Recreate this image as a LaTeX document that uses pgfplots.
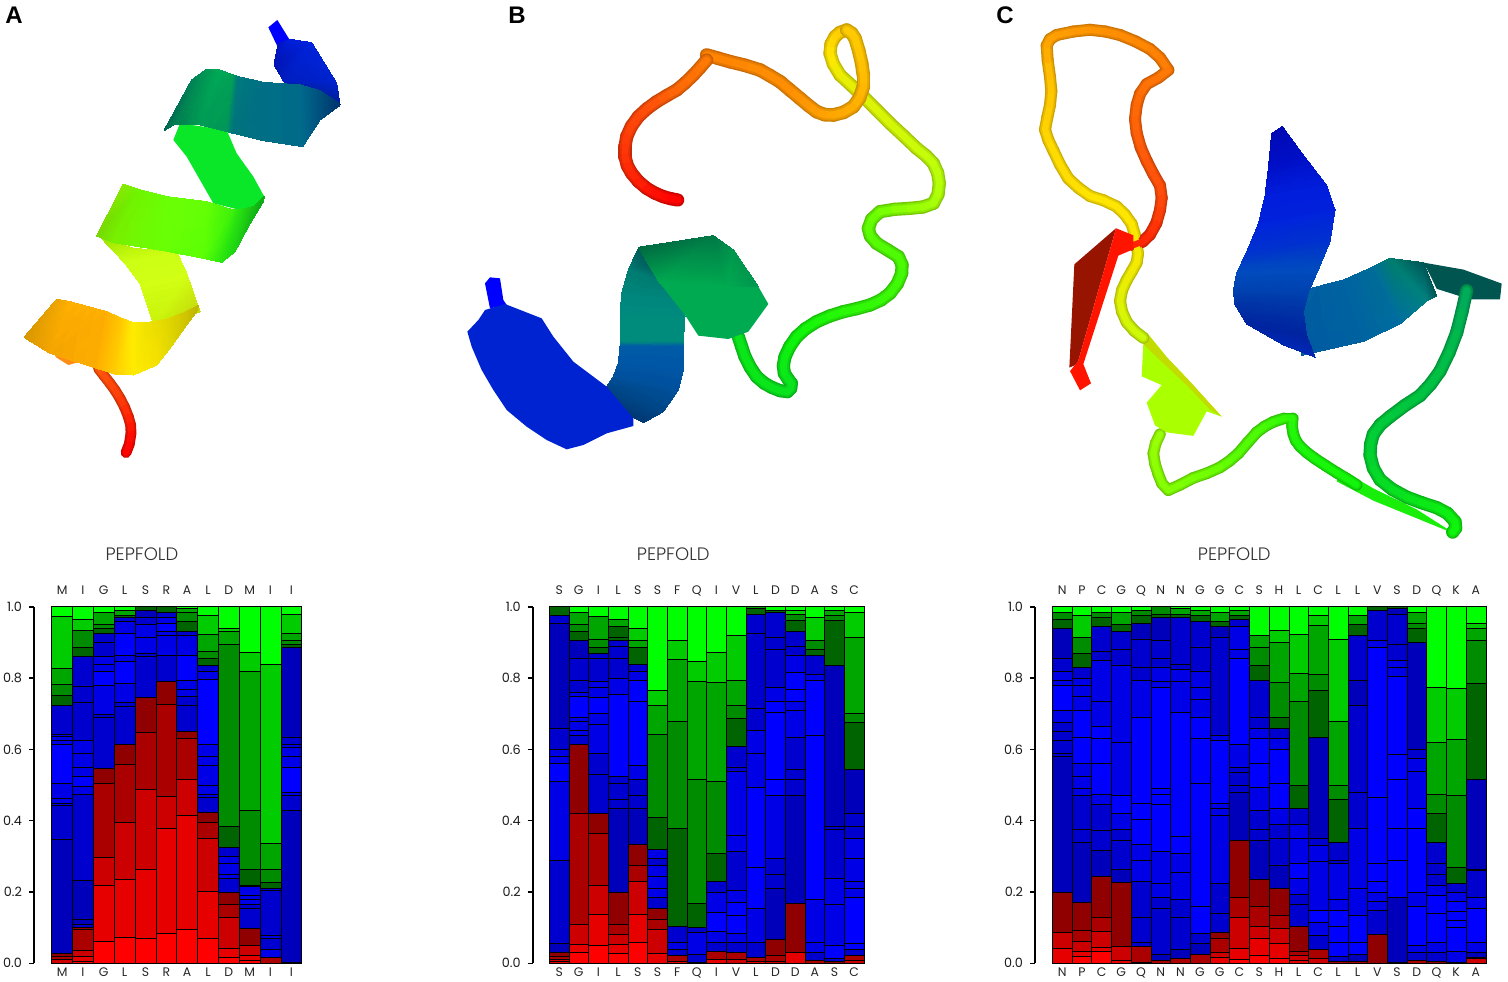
\documentclass[border=0pt]{standalone}
\usepackage{fontspec}
\usepackage{pgfplots}
\usepackage{pgfplotstable}
\pgfplotsset{compat=1.18}
\setmainfont{Poppins}[UprightFont=* Light]
\newfontfamily\tickfont{Poppins}
\newfontfamily\panelfont{Liberation Sans}[BoldFont=* Bold]

\definecolor{r1}{HTML}{FF0000}\definecolor{r2}{HTML}{E60000}\definecolor{r3}{HTML}{CC0000}
\definecolor{r4}{HTML}{AA0000}\definecolor{r5}{HTML}{910000}
\definecolor{b1}{HTML}{0000FF}\definecolor{b2}{HTML}{0000E6}\definecolor{b3}{HTML}{0000CE}\definecolor{b4}{HTML}{0000BA}
\definecolor{g1}{HTML}{006400}\definecolor{g2}{HTML}{008C00}\definecolor{g3}{HTML}{00A600}
\definecolor{g4}{HTML}{00CC00}\definecolor{g5}{HTML}{00FF00}

\pgfplotsset{
  colormap={rb}{rgb255(0)=(0,0,255) rgb255(25)=(0,130,130) rgb255(40)=(0,200,60) rgb255(50)=(15,245,10)
    rgb255(62)=(120,255,0) rgb255(70)=(190,255,10) rgb255(76)=(255,230,0) rgb255(85)=(255,150,0)
    rgb255(93)=(255,80,10) rgb255(100)=(255,0,0)},
  colormap={rbm}{rgb255(0)=(0,0,230) rgb255(25)=(0,118,118) rgb255(40)=(0,182,55) rgb255(50)=(14,222,9)
    rgb255(62)=(108,232,0) rgb255(70)=(172,232,9) rgb255(76)=(232,208,0) rgb255(85)=(232,136,0)
    rgb255(93)=(232,72,9) rgb255(100)=(230,0,0)},
  colormap={rbd}{rgb255(0)=(0,0,200) rgb255(25)=(0,100,100) rgb255(40)=(0,155,48) rgb255(50)=(11,190,8)
    rgb255(62)=(95,200,0) rgb255(70)=(150,200,8) rgb255(76)=(205,180,0) rgb255(85)=(205,118,0)
    rgb255(93)=(200,62,8) rgb255(100)=(200,0,0)},
  rib/.style={surf,shader=interp,mesh/color input=explicit,mesh/cols=2,forget plot},
  flat/.style={draw=none,forget plot},
  tube/.style={mesh,point meta=explicit,line cap=round,line join=round,line width=#1,forget plot},
  pic/.style={hide axis,scale only axis,clip=false,anchor=north west,y dir=reverse,
    point meta min=0,point meta max=1},
  seg/.style={draw=black,line width=0.22pt,forget plot},
  bars/.style={scale only axis,anchor=south west,clip=false,height=178.3pt,ymin=0,ymax=1},
  lowerbars/.style={bars,axis y line*=left,axis x line*=bottom,x axis line style={draw=none},
    y axis line style={line width=1pt,-},xtick style={draw=none},
    ytick={0,0.2,0.4,0.6,0.8,1},tick align=outside,major tick length=2.5pt,
    ytick style={line width=0.8pt,black},
    /pgf/number format/assume math mode=true,
    /pgf/number format/.cd,fixed,fixed zerofill,precision=1,/pgfplots/.cd,
    yticklabel style={font=\tickfont\fontsize{6.4}{7}\selectfont,black!90},
    xticklabel style={font=\tickfont\fontsize{6.2}{7}\selectfont,black!85,anchor=base,yshift=-4.2pt}},
  upperbars/.style={bars,hide y axis,axis x line*=top,x axis line style={draw=none},xtick style={draw=none},
    xticklabel style={font=\tickfont\fontsize{6.2}{7}\selectfont,black!85,anchor=base,yshift=6pt}},
}

% one stacked column: colour/top of each band, from the bottom up
\newcommand\stk[2]{%
  \gdef\prevtop{0}%
  \pgfmathtruncatemacro\xa{#1}\pgfmathtruncatemacro\xb{#1+1}%
  \foreach \col/\tp in {#2}{%
    \edef\tmp{\noexpand\addplot[seg,fill=\col] coordinates {(\xa,\prevtop)(\xb,\prevtop)(\xb,\tp)(\xa,\tp)} -- cycle;}\tmp
    \global\let\prevtop\tp
  }}
% a tube is three passes, dark rim to light core
\newcommand\tubeplot[2]{%
  \addplot[tube={#2},colormap name=rbd] table[meta=c] {#1};
  \addplot[tube={0.8*#2},colormap name=rbm] table[meta=c] {#1};
  \addplot[tube={0.52*#2},colormap name=rb] table[meta=c] {#1};
}

% tube centre lines, x y and position along the chain
\pgfplotstableread{
x y c
295 1105 .92
312 1127 .93
330 1150 .935
346 1172 .94
360 1195 .945
374 1222 .955
385 1250 .965
392 1275 .975
393 1300 .985
388 1332 .995
378 1358 1
}\tubeA
\pgfplotstableread{
x y c
865 1010 .46
875 1040 .465
885 1070 .47
901 1102 .47
920 1130 .47
942 1149 .47
965 1162 .465
990 1172 .46
1012 1175 .46
1022 1165 .46
1024 1150 .46
1014 1137 .465
1003 1120 .47
1000 1097 .475
1005 1070 .48
1019 1040 .49
1040 1010 .5
1067 986 .505
1100 965 .51
1139 948 .52
1180 935 .53
1220 926 .535
1260 915 .54
1293 900 .545
1320 880 .55
1342 851 .555
1355 820 .56
1356 794 .565
1345 770 .57
1313 750 .575
1280 730 .58
1261 708 .585
1255 685 .59
1265 658 .6
1290 635 .61
1333 628 .63
1380 625 .65
1419 621 .66
1450 610 .67
1464 583 .68
1468 550 .69
1463 519 .695
1450 490 .7
1429 468 .705
1400 445 .71
1360 407 .715
1320 370 .72
1280 330 .725
1240 290 .73
1205 257 .735
1170 225 .74
1150 192 .75
1140 160 .76
1143 132 .77
1155 110 .78
1170 97 .785
1190 90 .79
}\tubeBa
\pgfplotstableread{
x y c
1190 90 .79
1205 100 .79
1215 115 .79
1226 151 .795
1235 190 .8
1240 225 .805
1240 260 .81
1229 293 .815
1210 320 .82
1181 337 .825
1150 345 .83
1124 344 .835
1100 335 .84
1075 316 .845
1050 295 .85
1020 270 .855
990 245 .86
960 227 .86
930 210 .86
885 196 .865
840 185 .87
805 175 .87
770 165 .87
}\tubeBb
\pgfplotstableread{
x y c
770 180 .88
750 203 .885
730 225 .89
705 249 .895
680 270 .9
650 287 .91
620 305 .92
591 326 .93
565 350 .935
544 379 .94
530 410 .945
525 440 .95
525 470 .955
532 497 .96
545 520 .965
565 544 .97
590 565 .98
614 579 .985
640 590 .99
662 596 .995
683 600 1
}\tubeBc
\pgfplotstableread{
x y c
1430 830 .33
1416 890 .345
1400 950 .36
1377 1007 .37
1350 1060 .38
1322 1097 .385
1290 1130 .39
1245 1158 .395
1200 1190 .4
1171 1213 .405
1150 1240 .41
1142 1268 .415
1140 1300 .42
1150 1337 .43
1170 1370 .44
1207 1398 .45
1250 1420 .46
1295 1436 .47
1340 1450 .48
1372 1466 .485
1395 1490 .49
1397 1508 .495
1388 1520 .5
}\tubeCa
\pgfplotstableread{
x y c
1100 1385 .5
1070 1367 .505
1040 1350 .51
1007 1330 .51
975 1310 .51
951 1293 .515
930 1275 .515
917 1258 .52
910 1240 .52
906 1217 .525
908 1195 .53
882 1195 .54
850 1205 .55
824 1218 .56
800 1235 .57
772 1265 .575
745 1295 .58
718 1317 .59
690 1335 .6
650 1352 .61
610 1365 .62
572 1384 .625
535 1400 .63
516 1381 .635
505 1355 .64
495 1325 .645
490 1295 .65
497 1266 .655
510 1240 .66
}\tubeCb
\pgfplotstableread{
x y c
460 965 .71
433 945 .715
410 920 .72
396 890 .725
390 860 .73
396 829 .735
410 800 .74
426 774 .745
440 750 .75
444 725 .75
440 700 .75
434 669 .755
425 640 .76
405 613 .76
380 590 .76
340 572 .76
300 560 .76
266 537 .765
235 510 .77
210 470 .77
190 430 .77
175 400 .775
165 370 .78
172 335 .785
180 300 .79
184 260 .795
180 220 .8
173 172 .815
170 130 .83
180 112 .835
200 100 .84
250 90 .845
300 85 .85
346 90 .855
390 100 .86
436 118 .865
480 140 .87
510 165 .875
535 200 .88
505 222 .885
470 240 .89
450 268 .895
440 300 .9
435 340 .905
440 380 .91
452 421 .915
470 460 .92
490 497 .925
510 530 .93
515 565 .935
510 600 .94
499 637 .95
480 670 .96
458 690 .965
430 700 .97
}\tubeCc

\begin{document}
\begin{tikzpicture}
\path[use as bounding box] (0,0) rectangle (754pt,490.5pt);

% ---- protein A
\begin{axis}[pic,at={(0pt,490.5pt)},width=180pt,height=235pt,xmin=0,xmax=1080,ymin=0,ymax=1410]
\tubeplot{\tubeA}{5.4pt}
\addplot[flat,fill={rgb,255:red,255;green,140;blue,20}] coordinates {(165,1070)(205,1095)(240,1085)(200,1060)} -- cycle;
\addplot[flat,fill=b1] coordinates {(805,82)(832,60)(868,118)(835,145)} -- cycle;
\addplot[rib] table[meta=c] {
x y c
835 130 rgb255=0,20,190
870 118 rgb255=0,30,220
822 195 rgb255=0,20,180
935 128 rgb255=0,35,220
855 250 rgb255=0,30,190
1010 250 rgb255=0,35,205
860 252 rgb255=0,30,170
1020 315 rgb255=0,30,150
};
\addplot[flat,fill={rgb,255:red,10;green,230;blue,40}] coordinates {(540,370)(680,390)(710,460)(760,530)(793,590)(770,635)(720,630)(640,610)(600,540)(560,470)(520,420)} -- cycle;
\addplot[rib] table[meta=c] {
x y c
300 710 rgb255=150,225,0
400 745 rgb255=190,245,10
375 790 rgb255=205,255,20
530 755 rgb255=205,255,20
420 850 rgb255=210,255,20
560 820 rgb255=210,255,20
465 985 rgb255=200,240,10
600 935 rgb255=195,215,10
};
\addplot[rib] table[meta=c] {
x y c
575 240 rgb255=0,130,90
492 392 rgb255=0,100,80
620 208 rgb255=0,150,85
525 372 rgb255=0,125,80
660 210 rgb255=0,170,85
600 375 rgb255=0,155,85
700 225 rgb255=0,160,85
680 395 rgb255=0,150,90
715 230 rgb255=0,120,125
700 400 rgb255=0,115,125
790 247 rgb255=0,110,135
790 422 rgb255=0,110,135
900 255 rgb255=0,105,140
908 440 rgb255=0,105,140
960 272 rgb255=0,80,125
960 360 rgb255=0,80,125
1020 312 rgb255=0,50,110
1020 316 rgb255=0,50,110
};
\addplot[rib] table[meta=c] {
x y c
370 553 rgb255=135,235,0
290 708 rgb255=120,215,0
420 570 rgb255=110,245,0
340 728 rgb255=120,240,0
500 590 rgb255=105,255,5
480 750 rgb255=105,255,5
620 605 rgb255=100,255,5
610 775 rgb255=90,255,5
700 630 rgb255=60,240,10
665 787 rgb255=40,230,15
720 630 rgb255=40,225,15
705 755 rgb255=30,210,20
760 620 rgb255=25,190,20
745 680 rgb255=20,190,20
793 590 rgb255=10,170,20
790 605 rgb255=10,170,20
};
\addplot[rib] table[meta=c] {
x y c
170 898 rgb255=235,165,0
72 1012 rgb255=215,150,0
210 905 rgb255=255,175,0
150 1060 rgb255=245,165,0
320 935 rgb255=255,175,0
290 1105 rgb255=255,175,0
365 955 rgb255=255,200,0
345 1122 rgb255=255,205,0
400 968 rgb255=255,235,0
400 1125 rgb255=255,235,0
440 968 rgb255=240,225,0
470 1095 rgb255=245,225,0
500 958 rgb255=225,215,0
510 1045 rgb255=225,215,0
560 935 rgb255=205,195,0
560 975 rgb255=205,195,0
597 915 rgb255=190,180,0
590 935 rgb255=190,180,0
};
\end{axis}

% ---- protein B
\begin{axis}[pic,at={(225pt,490.5pt)},width=255pt,height=235pt,xmin=0,xmax=1530,ymin=0,ymax=1410]
\tubeplot{\tubeBa}{6.6pt}
\tubeplot{\tubeBb}{6.8pt}
\tubeplot{\tubeBc}{6.6pt}
\addplot[flat,fill=b1] coordinates {(105,850)(120,832)(150,835)(160,900)(170,915)(120,925)} -- cycle;
\addplot[rib] table[meta=c] {
x y c
565 745 rgb255=0,90,90
600 790 rgb255=0,90,90
535 810 rgb255=0,125,115
640 850 rgb255=0,125,115
515 880 rgb255=0,135,125
680 900 rgb255=0,135,125
510 950 rgb255=0,140,125
705 950 rgb255=0,140,125
510 1025 rgb255=0,140,125
700 1025 rgb255=0,140,125
510 1040 rgb255=0,90,165
700 1040 rgb255=0,90,165
505 1090 rgb255=0,85,165
700 1110 rgb255=0,85,165
490 1130 rgb255=0,80,155
685 1170 rgb255=0,80,155
470 1160 rgb255=0,70,135
640 1235 rgb255=0,70,135
545 1250 rgb255=0,55,115
580 1268 rgb255=0,55,115
};
\addplot[flat,fill={rgb,255:red,0;green,35;blue,210}] coordinates {(52,995)(85,960)(105,930)(165,912)(275,955)(310,1010)(370,1085)(470,1160)(550,1255)(550,1278)(470,1300)(400,1335)(350,1348)(290,1320)(230,1280)(170,1230)(130,1170)(95,1110)(65,1040)} -- cycle;
\addplot[flat,fill={rgb,255:red,0;green,170;blue,80}] coordinates {(565,742)(790,707)(850,750)(925,860)(955,912)(895,995)(835,1017)(745,1007)(705,945)(630,850)} -- cycle;
\addplot[rib] table[meta=c] {
x y c
565 742 rgb255=0,105,65
630 850 rgb255=0,170,80
790 707 rgb255=0,120,70
830 860 rgb255=0,170,80
850 750 rgb255=0,150,75
925 860 rgb255=0,150,80
};
\end{axis}

% ---- protein C
\begin{axis}[pic,at={(495pt,490.5pt)},width=259pt,height=275pt,xmin=0,xmax=1554,ymin=0,ymax=1571]
\addplot[rib] table[meta=c] {
x y c
915 835 rgb255=0,95,160
935 1015 rgb255=0,90,160
1060 800 rgb255=0,100,160
1120 975 rgb255=0,100,160
1150 762 rgb255=0,110,150
1230 925 rgb255=0,110,160
1200 738 rgb255=0,125,110
1310 860 rgb255=0,130,130
1300 750 rgb255=0,85,85
1340 845 rgb255=0,85,85
};
\addplot[flat,fill={rgb,255:red,0;green,85;blue,80}] coordinates {(1300,750)(1420,770)(1535,810)(1530,855)(1440,855)(1340,825)(1320,785)} -- cycle;
\addplot[rib] table[meta=c] {
x y c
845 382 rgb255=0,10,180
877 362 rgb255=0,10,180
835 480 rgb255=0,15,200
945 450 rgb255=0,15,200
825 560 rgb255=0,30,220
1010 530 rgb255=0,30,220
805 640 rgb255=0,35,220
1035 600 rgb255=0,35,220
770 720 rgb255=0,50,205
1020 690 rgb255=0,50,205
740 780 rgb255=0,75,190
985 770 rgb255=0,75,190
730 830 rgb255=0,65,175
955 835 rgb255=0,65,175
735 870 rgb255=0,50,165
940 890 rgb255=0,50,165
770 925 rgb255=0,35,160
950 960 rgb255=0,35,160
880 985 rgb255=0,40,180
975 1020 rgb255=0,40,180
};
\addplot[flat,fill={rgb,255:red,25;green,238;blue,10}] coordinates {(1395,1525)(1150,1430)(1040,1375)(1050,1340)(1150,1395)(1280,1455)} -- cycle;
\tubeplot{\tubeCb}{5.8pt}
\tubeplot{\tubeCa}{6.6pt}
\addplot[flat,fill={rgb,255:red,170;green,255;blue,0}] coordinates {(470,950)(530,1020)(600,1090)(695,1190)(650,1175)(610,1245)(530,1235)(495,1215)(470,1150)(515,1100)(455,1075)(460,980)} -- cycle;
\addplot[flat,fill={rgb,255:red,195;green,220;blue,0}] coordinates {(470,950)(530,1020)(600,1090)(695,1190)(660,1170)(590,1100)(500,1020)(462,985)} -- cycle;
\tubeplot{\tubeCc}{6pt}
\addplot[flat,fill={rgb,255:red,150;green,20;blue,0}] coordinates {(253,755)(378,652)(262,1040)(238,1050)} -- cycle;
\addplot[flat,fill={rgb,255:red,255;green,20;blue,0}] coordinates {(378,652)(430,672)(430,712)(385,730)(280,1040)(303,1095)(270,1115)(240,1060)(265,1030)} -- cycle;
\end{axis}

% ---- sequence profile A
\begin{axis}[lowerbars,at={(17pt,8.85pt)},width=133.85pt,xmin=-0.85,xmax=12,
  xtick={0.5,1.5,2.5,3.5,4.5,5.5,6.5,7.5,8.5,9.5,10.5,11.5},xticklabels={M,I,G,L,S,R,A,L,D,M,I,I}]
\stk{0}{r3/.011,r4/.021,r5/.028,b4/.349,b3/.444,b2/.449,b2/.463,b2/.505,b1/.615,b2/.626,b2/.636,b2/.642,b3/.724,g1/.752,g2/.783,g3/.827,g4/.974,g5/1}
\stk{1}{r1/.006,r2/.019,r3/.036,r4/.095,r5/.102,b3/.11,b4/.125,b4/.232,b3/.475,b2/.498,b1/.525,b2/.55,b2/.59,b2/.626,b3/.733,b3/.777,b3/.86,g1/.886,g2/.933,g4/.965,g5/1}
\stk{2}{r1/.062,r2/.22,r3/.297,r4/.505,r5/.548,b3/.69,b3/.698,b2/.78,b1/.82,b2/.84,b2/.86,b3/.9,b3/.927,g1/.94,g2/.95,g3/.985,g5/1}
\stk{3}{r1/.073,r2/.237,r3/.396,r4/.558,r5/.615,b3/.72,b3/.733,b2/.785,b1/.848,b2/.865,b1/.925,b2/.96,b3/.97,g1/.975,g3/.99,g5/1}
\stk{4}{r1/.07,r2/.265,r3/.487,r4/.648,r5/.745,b3/.86,b3/.87,b2/.915,b2/.95,b3/.97,b4/.99,g1/1}
\stk{5}{r1/.085,r2/.38,r3/.468,r4/.726,r5/.792,b3/.865,b2/.92,b2/.93,b1/.955,b2/.97,b3/.985,g1/1}
\stk{6}{r1/.095,r2/.415,r3/.517,r4/.632,r5/.65,b3/.725,b3/.75,b2/.77,b2/.795,b1/.865,b2/.92,b3/.93,g1/.96,g2/.985,g3/.995,g5/1}
\stk{7}{r1/.07,r2/.203,r3/.35,r4/.395,r5/.425,b3/.465,b2/.475,b2/.5,b2/.556,b2/.58,b2/.614,b1/.798,b2/.82,b3/.835,g1/.855,g2/.875,g3/.922,g4/.975,g5/1}
\stk{8}{r1/.017,r2/.043,r3/.13,r4/.165,r5/.2,b3/.24,b2/.25,b2/.28,b2/.3,b3/.325,g1/.385,g2/.895,g3/.93,g4/.94,g5/1}
\stk{9}{r1/.008,r2/.024,r3/.05,r5/.098,b3/.155,b3/.165,b2/.18,b2/.19,b2/.215,b3/.22,g1/.265,g2/.43,g3/.82,g4/.872,g5/1}
\stk{10}{r4/.016,b2/.04,b3/.07,b2/.08,b3/.205,b3/.21,g1/.228,g2/.265,g3/.338,g4/.838,g5/1}
\stk{11}{r5/.004,b4/.428,b3/.47,b2/.48,b1/.55,b2/.58,b2/.605,b2/.615,b3/.635,b4/.885,g1/.895,g2/.905,g3/.925,g4/.98,g5/1}
\end{axis}
\begin{axis}[upperbars,at={(17pt,8.85pt)},width=133.85pt,xmin=-0.85,xmax=12,
  xtick={0.5,1.5,2.5,3.5,4.5,5.5,6.5,7.5,8.5,9.5,10.5,11.5},xticklabels={M,I,G,L,S,R,A,L,D,M,I,I}]
\addplot[draw=none,forget plot] coordinates {(0,0)(12,1)};
\node[font=\fontsize{9}{9}\selectfont,black!80] at (axis cs:4.33,1.146) {PEPFOLD};
\end{axis}

% ---- sequence profile B
\begin{axis}[lowerbars,at={(266.35pt,8.85pt)},width=165.65pt,xmin=-0.844,xmax=16,
  xtick={0.5,1.5,2.5,3.5,4.5,5.5,6.5,7.5,8.5,9.5,10.5,11.5,12.5,13.5,14.5,15.5},xticklabels={S,G,I,L,S,S,F,Q,I,V,L,D,D,A,S,C}]
\stk{0}{r2/.006,r3/.012,r4/.02,r5/.03,b4/.057,b3/.29,b2/.51,b1/.56,b2/.58,b2/.6,b3/.66,b4/.955,b3/.975,g1/1}
\stk{1}{r1/.03,r2/.053,r3/.11,r4/.42,r5/.613,b3/.64,b2/.655,b2/.68,b2/.69,b1/.75,b2/.76,b3/.795,b3/.855,b4/.905,g1/.93,g2/.95,g3/.985,g5/1}
\stk{2}{r1/.05,r2/.137,r3/.22,r4/.365,r5/.42,b3/.53,b3/.59,b2/.67,b2/.7,b1/.745,b2/.775,b2/.79,b3/.855,b3/.87,g1/.885,g2/.91,g3/.972,g5/1}
\stk{3}{r1/.027,r2/.053,r3/.082,r4/.11,r5/.2,b4/.435,b3/.46,b3/.505,b3/.525,b1/.755,b2/.8,b3/.855,b3/.89,b3/.905,g1/.915,g1/.945,g3/.965,g5/1}
\stk{4}{r1/.058,r2/.137,r3/.23,r4/.275,r5/.335,b4/.435,b3/.47,b3/.515,b2/.555,b1/.735,b1/.795,b2/.82,b3/.84,g1/.885,g3/.905,g4/.94,g5/1}
\stk{5}{r2/.027,r3/.095,r4/.125,r5/.155,b3/.185,b2/.21,b2/.245,b2/.275,b3/.295,b2/.32,g1/.41,g2/.643,g3/.725,g4/.767,g5/1}
\stk{6}{r2/.006,r4/.023,b3/.04,b2/.06,b3/.105,g1/.38,g2/.68,g3/.853,g4/.905,g5/1}
\stk{7}{r4/.003,b3/.025,b2/.088,b3/.1,g1/.168,g2/.517,g3/.79,g4/.847,g5/1}
\stk{8}{r2/.012,r4/.033,b3/.06,b2/.09,b1/.143,b2/.2,b3/.23,g1/.31,g2/.51,g3/.788,g4/.873,g5/1}
\stk{9}{r3/.012,r4/.03,b3/.06,b2/.085,b1/.135,b1/.17,b2/.205,b3/.315,b2/.36,b2/.54,b3/.55,b3/.61,g1/.688,g2/.725,g3/.793,g4/.92,g5/1}
\stk{10}{r2/.006,r4/.018,b3/.06,b2/.155,b1/.27,b1/.495,b2/.59,b2/.655,b3/.715,b3/.925,b3/.98,g1/.995,g3/1}
\stk{11}{r3/.006,r4/.022,r5/.068,b4/.21,b3/.25,b3/.295,b2/.47,b1/.515,b1/.705,b1/.735,b2/.775,b3/.88,b3/.915,b3/.985,g1/.99,g5/1}
\stk{12}{r2/.03,r5/.168,b4/.47,b3/.515,b3/.545,b3/.635,b2/.71,b2/.735,b1/.77,b1/.815,b2/.865,b3/.89,b3/.93,g1/.963,g2/.98,g4/.99,g5/1}
\stk{13}{r4/.008,b3/.03,b2/.06,b2/.18,b1/.64,b1/.795,b2/.81,b3/.865,g1/.88,g2/.905,g4/.97,g5/1}
\stk{14}{r5/.006,b3/.015,b1/.05,b2/.165,b2/.24,b3/.375,b3/.385,b4/.835,g1/.962,g2/.975,g3/.99,g5/1}
\stk{15}{r3/.01,r4/.022,b3/.04,b1/.055,b1/.185,b2/.21,b2/.23,b2/.295,b2/.35,b3/.385,b3/.42,b4/.545,g1/.677,g2/.7,g3/.915,g4/.985,g5/1}
\end{axis}
\begin{axis}[upperbars,at={(266.35pt,8.85pt)},width=165.65pt,xmin=-0.844,xmax=16,
  xtick={0.5,1.5,2.5,3.5,4.5,5.5,6.5,7.5,8.5,9.5,10.5,11.5,12.5,13.5,14.5,15.5},xticklabels={S,G,I,L,S,S,F,Q,I,V,L,D,D,A,S,C}]
\addplot[draw=none,forget plot] coordinates {(0,0)(16,1)};
\node[font=\fontsize{9}{9}\selectfont,black!80] at (axis cs:6.3,1.146) {PEPFOLD};
\end{axis}

% ---- sequence profile C
\begin{axis}[lowerbars,at={(517.5pt,8.85pt)},width=225.35pt,xmin=-0.878,xmax=22,
  xtick={0.5,1.5,2.5,3.5,4.5,5.5,6.5,7.5,8.5,9.5,10.5,11.5,12.5,13.5,14.5,15.5,16.5,17.5,18.5,19.5,20.5,21.5},xticklabels={N,P,C,G,Q,N,N,G,G,C,S,H,L,C,L,L,V,S,D,Q,K,A}]
\stk{0}{r2/.042,r3/.086,r5/.2,b4/.58,b3/.59,b3/.625,b3/.65,b3/.675,b2/.71,b1/.78,b2/.795,b2/.82,b3/.855,b4/.94,g1/.965,g2/.985,g5/1}
\stk{1}{r1/.02,r2/.035,r3/.062,r4/.093,r5/.172,b4/.34,b3/.375,b3/.47,b2/.49,b2/.525,b2/.56,b1/.635,b1/.71,b2/.75,b2/.78,b2/.8,b3/.83,g1/.87,g2/.915,g4/.975,g5/1}
\stk{2}{r1/.033,r2/.045,r3/.09,r4/.13,r5/.244,b4/.318,b3/.373,b3/.445,b2/.475,b1/.56,b1/.63,b1/.665,b2/.735,b2/.85,b3/.875,b3/.945,g1/.97,g2/.985,g5/1}
\stk{3}{r2/.01,r3/.047,r5/.228,b4/.265,b3/.345,b3/.375,b2/.42,b1/.47,b2/.62,b2/.835,b3/.88,b3/.93,g1/.95,g3/.985,g5/1}
\stk{4}{r5/.003,r4/.047,b3/.06,b3/.13,b3/.23,b2/.29,b2/.335,b1/.405,b1/.45,b1/.69,b2/.795,b3/.83,b3/.91,b4/.955,g1/.975,g2/.99,g5/1}
\stk{5}{r4/.008,b4/.025,b3/.155,b3/.185,b2/.225,b2/.315,b1/.445,b1/.475,b1/.49,b1/.775,b2/.79,b2/.83,b3/.855,b3/.905,b4/.97,g1/.98,g2/1}
\stk{6}{r4/.015,b4/.04,b3/.13,b3/.18,b2/.255,b2/.31,b1/.355,b1/.705,b2/.79,b2/.825,b3/.84,b3/.97,g1/.98,g3/.995,g5/1}
\stk{7}{r4/.025,b4/.055,b3/.085,b1/.16,b1/.505,b1/.63,b1/.69,b2/.74,b2/.775,b2/.82,b3/.885,b3/.96,g1/.975,g3/.99,g5/1}
\stk{8}{r2/.018,r3/.03,r4/.07,r5/.087,b3/.14,b3/.225,b2/.415,b2/.435,b2/.45,b1/.625,b2/.64,b3/.915,b4/.945,g1/.96,g3/.985,g5/1}
\stk{9}{r1/.012,r2/.043,r3/.128,r4/.185,r5/.345,b4/.48,b3/.5,b3/.535,b3/.55,b2/.615,b1/.855,b2/.88,b2/.945,b3/.965,g1/.975,g3/.99,g5/1}
\stk{10}{r1/.024,r2/.07,r3/.103,r4/.16,r5/.237,b4/.345,b3/.375,b3/.43,b2/.495,b1/.56,b1/.63,b2/.66,b3/.69,b3/.795,g1/.835,g2/.885,g3/.92,g5/1}
\stk{11}{r1/.015,r2/.055,r3/.097,r4/.135,r5/.21,b4/.275,b3/.35,b3/.39,b2/.435,b1/.505,b1/.6,b2/.63,b3/.66,g1/.69,g2/.787,g3/.9,g4/.935,g5/1}
\stk{12}{r2/.01,r3/.022,r4/.035,r5/.105,b3/.165,b3/.195,b2/.24,b1/.28,b2/.35,b2/.39,b3/.435,g1/.5,g2/.735,g3/.813,g4/.922,g5/1}
\stk{13}{r3/.015,r4/.04,b3/.08,b2/.115,b1/.148,b2/.285,b2/.33,b3/.35,b4/.633,g1/.767,g2/.81,g3/.947,g4/.975,g5/1}
\stk{14}{r4/.006,b3/.02,b1/.06,b1/.105,b1/.15,b2/.18,b2/.28,b3/.29,b3/.34,g1/.46,g2/.5,g3/.68,g4/.91,g5/1}
\stk{15}{r4/.005,b4/.025,b1/.06,b1/.135,b2/.21,b2/.38,b3/.48,b3/.725,b4/.795,b3/.92,g1/.95,g3/.975,g5/1}
\stk{16}{r5/.082,b3/.15,b2/.175,b2/.2,b1/.23,b1/.28,b1/.465,b1/.885,b2/.905,b3/.99,g1/1}
\stk{17}{r5/.002,b4/.185,b1/.29,b1/.38,b1/.515,b1/.585,b1/.805,b2/.83,b2/.85,b3/.895,b3/.98,b4/.995,g1/1}
\stk{18}{r4/.008,b3/.03,b2/.05,b1/.16,b2/.2,b1/.38,b1/.435,b2/.54,b2/.575,b3/.6,b4/.9,g1/.94,g2/.955,g3/.985,g5/1}
\stk{19}{r5/.006,b3/.03,b2/.06,b1/.14,b1/.19,b2/.22,b3/.25,b3/.28,b3/.34,g1/.42,g2/.475,g3/.62,g4/.775,g5/1}
\stk{20}{r5/.003,b2/.035,b1/.1,b1/.12,b1/.145,b1/.175,b2/.2,b3/.225,g1/.27,g2/.47,g3/.628,g4/.772,g5/1}
\stk{21}{r3/.015,r4/.017,b4/.03,b2/.06,b1/.155,b2/.185,b3/.26,b3/.265,b4/.517,g1/.785,g2/.905,g3/.94,g4/.953,g5/1}
\end{axis}
\begin{axis}[upperbars,at={(517.5pt,8.85pt)},width=225.35pt,xmin=-0.878,xmax=22,
  xtick={0.5,1.5,2.5,3.5,4.5,5.5,6.5,7.5,8.5,9.5,10.5,11.5,12.5,13.5,14.5,15.5,16.5,17.5,18.5,19.5,20.5,21.5},xticklabels={N,P,C,G,Q,N,N,G,G,C,S,H,L,C,L,L,V,S,D,Q,K,A}]
\addplot[draw=none,forget plot] coordinates {(0,0)(22,1)};
\node[font=\fontsize{9}{9}\selectfont,black!80] at (axis cs:9.24,1.146) {PEPFOLD};
\end{axis}

\node[font=\panelfont\bfseries\fontsize{12}{12}\selectfont] at (7pt,483pt) {A};
\node[font=\panelfont\bfseries\fontsize{12}{12}\selectfont] at (258.5pt,483pt) {B};
\node[font=\panelfont\bfseries\fontsize{12}{12}\selectfont] at (502.5pt,483pt) {C};
\end{tikzpicture}
\end{document}
